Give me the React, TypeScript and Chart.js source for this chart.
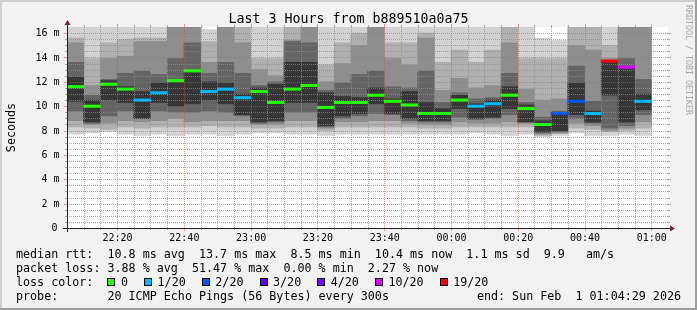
import React, { useEffect, useRef } from 'react';
import { Chart, registerables } from 'chart.js';

Chart.register(...registerables);

// 5-minute slots (start time of each slot)
const slots = [
  '22:05', '22:10', '22:15', '22:20', '22:25', '22:30', '22:35', '22:40', '22:45', '22:50', '22:55', '23:00',
  '23:05', '23:10', '23:15', '23:20', '23:25', '23:30', '23:35', '23:40', '23:45', '23:50', '23:55', '00:00',
  '00:05', '00:10', '00:15', '00:20', '00:25', '00:30', '00:35', '00:40', '00:45', '00:50', '00:55', '01:00',
];

// median rtt per slot (ms)
const medianMs = [
  11.6, 10.0, 11.8, 11.4, 10.5, 11.1, 12.1, 12.9, 11.2, 11.4, 10.7, 11.2,
  10.3, 11.4, 11.7, 9.9, 10.3, 10.3, 10.9, 10.4, 10.1, 9.4, 9.4, 10.5,
  10.0, 10.2, 10.9, 9.8, 8.5, 9.4, 10.4, 9.4, 13.7, 13.2, 10.4,
];

// loss class per slot (index into lossColors)
const lossStep = [
  0, 0, 0, 0, 1, 1, 0, 0, 1, 1, 1, 0,
  0, 0, 0, 0, 0, 0, 0, 0, 0, 0, 0, 0,
  1, 1, 0, 0, 0, 2, 2, 1, 6, 5, 1,
];

const lossLabels = ['0', '1/20', '2/20', '3/20', '4/20', '10/20', '19/20'];
const lossColors = ['#26ff00', '#00b8ff', '#0059ff', '#5e00ff', '#7e00ff', '#dd00ff', '#ff0000'];

// smoke: nested ping spreads per slot (ms), outer to inner
const smokeMin = [
  7.7, 7.8, 7.9, 7.7, 7.6, 7.7, 7.6, 7.7, 7.7, 7.6, 7.7, 7.8,
  7.8, 7.7, 7.7, 7.6, 7.7, 7.7, 7.7, 7.7, 7.7, 7.7, 7.7, 7.7,
  7.8, 7.7, 7.6, 7.7, 7.5, 7.6, 7.8, 7.6, 7.6, 7.7, 7.6,
];
const smokeLo2 = [
  8.3, 8.2, 8.1, 8.3, 8.2, 8.3, 8.3, 8.3, 8.4, 8.3, 8.3, 8.2,
  8.2, 8.3, 8.3, 8.0, 8.3, 8.3, 8.3, 8.3, 8.3, 8.2, 8.2, 8.3,
  8.3, 8.3, 8.3, 8.3, 7.6, 7.75, 8.2, 8.1, 7.9, 8.0, 8.2,
];
const smokeLo3 = [
  8.8, 8.5, 8.6, 8.8, 8.7, 8.8, 9.0, 8.7, 8.8, 8.8, 8.8, 8.5,
  8.5, 8.8, 8.8, 8.2, 8.7, 8.7, 8.8, 8.8, 8.6, 8.5, 8.5, 8.7,
  8.6, 8.6, 8.7, 8.6, 7.7, 7.8, 8.6, 8.4, 8.0, 8.2, 8.7,
];
const smokeLo4 = [
  9.6, 8.6, 9.2, 9.6, 9.0, 9.6, 9.5, 9.5, 9.6, 9.5, 9.2, 8.6,
  8.7, 9.5, 9.5, 8.3, 9.0, 9.2, 9.4, 9.3, 8.8, 8.7, 8.7, 9.1,
  8.9, 9.0, 9.3, 8.7, 7.8, 7.9, 9.0, 8.6, 8.2, 8.4, 9.3,
];
const smokeLo5 = [
  10.4, 8.7, 10.5, 10.3, 9.0, 10.3, 10.0, 10.2, 10.5, 10.2, 9.3, 8.7,
  8.8, 10.3, 10.3, 8.4, 9.2, 9.4, 10.2, 9.4, 9.0, 8.8, 8.8, 9.8,
  9.0, 9.1, 9.8, 8.7, 7.9, 8.0, 9.3, 8.7, 10.9, 8.7, 9.7,
];
const smokeHi5 = [
  12.4, 10.5, 12.1, 11.6, 11.2, 11.9, 12.2, 12.9, 12.0, 11.9, 11.0, 11.5,
  11.8, 13.6, 13.6, 11.1, 10.8, 10.7, 11.5, 10.6, 11.2, 10.3, 9.8, 10.9,
  10.2, 10.5, 11.6, 10.1, 8.8, 9.5, 11.9, 9.6, 13.7, 13.2, 11.0,
];
const smokeHi4 = [
  13.6, 10.9, 12.2, 12.7, 12.9, 12.6, 13.9, 15.2, 12.7, 13.6, 12.7, 11.7,
  12.0, 15.3, 15.2, 11.3, 11.9, 12.6, 12.9, 11.6, 11.5, 12.9, 10.3, 11.1,
  10.6, 10.7, 12.7, 10.3, 9.1, 9.6, 13.3, 10.4, 13.75, 13.9, 12.2,
];
const smokeHi3 = [
  15.2, 11.7, 13.9, 14.1, 15.3, 15.3, 17, 17, 13.6, 17, 15.2, 13.0,
  12.5, 15.4, 17, 12.0, 13.5, 15.0, 17, 13.9, 13.4, 15.6, 11.3, 12.3,
  11.5, 11.7, 15.2, 11.4, 10.5, 10.6, 15.0, 14.6, 13.9, 17, 17,
];
const smokeHi2 = [
  15.6, 13.9, 15.2, 15.5, 15.6, 15.6, 17, 17, 15.3, 17, 17, 13.9,
  13.9, 17, 17, 13.4, 15.2, 16.0, 17, 15.2, 15.2, 16.0, 13.6, 14.6,
  13.6, 14.6, 17, 13.9, 13.9, 13.9, 17, 17, 15.0, 17, 17,
];
const smokeMax = [
  17, 17, 17, 17, 17, 17, 17, 17, 16.3, 17, 17, 17,
  17, 17, 17, 17, 17, 17, 17, 17, 17, 17, 17, 17,
  17, 17, 17, 17, 15.6, 15.4, 17, 17, 17, 17, 17,
];

// y axis ticks
const yTickValues = [0, 2, 4, 6, 8, 10, 12, 14, 16];
const yTickLabels = ['0', '2 m', '4 m', '6 m', '8 m', '10 m', '12 m', '14 m', '16 m'];

const titleText = 'Last 3 Hours from b889510a0a75';
const yTitle = 'Seconds';
const watermark = 'RRDTOOL / TOBI OETIKER';
const rttLine = 'median rtt:  10.8 ms avg  13.7 ms max  8.5 ms min  10.4 ms now  1.1 ms sd  9.9   am/s';
const lossLine = 'packet loss: 3.88 % avg  51.47 % max  0.00 % min  2.27 % now';
const lossColorLabel = 'loss color:';
const probeLine = 'probe:       20 ICMP Echo Pings (56 Bytes) every 300s';
const endLine = 'end: Sun Feb  1 01:04:29 2026';

const layerColors = ['#d2d2d2', '#b0b0b0', '#8e8e8e', '#646464', '#363636'];
const MONO = '"DejaVu Sans Mono", monospace';
const MINOR = 'rgba(143,143,143,0.75)';
const MAJOR = 'rgba(222,79,79,0.6)';
const CORE_INDEX = 4;

const pair = (lo: number[], hi: number[]) =>
  slots.map((_, i) => (i < lo.length ? [lo[i], hi[i]] : null));

function isMajor(label: string) {
  return label.endsWith(':00') || label.endsWith(':20') || label.endsWith(':40');
}

function drawGrid(chart: any) {
  const { ctx, chartArea: a, scales } = chart;
  const x = scales.x;
  const y = scales.y;
  const L = a.left, R = a.right, T = a.top, B = a.bottom;
  ctx.save();
  ctx.lineWidth = 1;
  // horizontal
  for (let v = 0.5; v <= 16.01; v += 0.5) {
    const major = Math.abs(v / 2 - Math.round(v / 2)) < 1e-6;
    const py = Math.round(y.getPixelForValue(v)) + 0.5;
    ctx.strokeStyle = major ? MAJOR : MINOR;
    ctx.setLineDash([1, 1]);
    ctx.beginPath();
    ctx.moveTo(L, py);
    ctx.lineTo(R, py);
    ctx.stroke();
    ctx.setLineDash([]);
    ctx.beginPath();
    ctx.moveTo(L - (major ? 3 : 2), py);
    ctx.lineTo(L, py);
    ctx.moveTo(R, py);
    ctx.lineTo(R + (major ? 3 : 2), py);
    ctx.stroke();
  }
  // vertical
  for (let k = 1; k < slots.length; k++) {
    const major = isMajor(slots[k]);
    const px = Math.round(x.getPixelForValue(k - 0.5)) + 0.5;
    ctx.strokeStyle = major ? MAJOR : MINOR;
    ctx.setLineDash([1, 1]);
    ctx.beginPath();
    ctx.moveTo(px, T);
    ctx.lineTo(px, B);
    ctx.stroke();
    ctx.setLineDash([]);
    ctx.beginPath();
    ctx.moveTo(px, T - (major ? 3 : 2));
    ctx.lineTo(px, T);
    ctx.moveTo(px, B);
    ctx.lineTo(px, B + (major ? 3 : 2));
    ctx.stroke();
  }
  ctx.restore();
}

function drawFrame(chart: any) {
  const { ctx, chartArea: a, scales, width } = chart;
  const x = scales.x;
  const y = scales.y;
  const L = a.left, R = a.right, T = a.top, B = a.bottom;
  ctx.save();
  // axes
  const ax = Math.round(L) + 0.5;
  const ay = Math.round(B) + 0.5;
  ctx.strokeStyle = 'rgb(31,31,31)';
  ctx.lineWidth = 1;
  ctx.beginPath();
  ctx.moveTo(L - 4, ay);
  ctx.lineTo(R + 4, ay);
  ctx.moveTo(ax, B + 4);
  ctx.lineTo(ax, T - 4);
  ctx.stroke();
  ctx.fillStyle = 'rgb(128,31,31)';
  ctx.beginPath();
  ctx.moveTo(R + 2, ay - 3);
  ctx.lineTo(R + 2, ay + 3);
  ctx.lineTo(R + 7, ay);
  ctx.closePath();
  ctx.fill();
  ctx.beginPath();
  ctx.moveTo(ax - 3, T - 2);
  ctx.lineTo(ax + 3, T - 2);
  ctx.lineTo(ax, T - 7);
  ctx.closePath();
  ctx.fill();

  // y tick labels
  ctx.fillStyle = '#000';
  ctx.font = '10px ' + MONO;
  ctx.textBaseline = 'middle';
  ctx.textAlign = 'right';
  yTickValues.forEach((v, i) => {
    const lbl = yTickLabels[i];
    ctx.fillText(lbl, lbl.length === 1 ? L - 9.5 : L - 7.5, y.getPixelForValue(v) + 0.5);
  });
  // x tick labels
  ctx.textAlign = 'center';
  for (let k = 1; k < slots.length; k++) {
    if (isMajor(slots[k])) {
      ctx.fillText(slots[k], x.getPixelForValue(k - 0.5) + 0.5, B + 10);
    }
  }

  // title
  ctx.font = '13.3px ' + MONO;
  ctx.textAlign = 'center';
  ctx.fillText(titleText, width / 2, 19.5);

  // y title
  ctx.font = '11.7px ' + MONO;
  ctx.save();
  ctx.translate(11.5, (T + B) / 2);
  ctx.rotate(-Math.PI / 2);
  ctx.textAlign = 'center';
  ctx.fillText(yTitle, 0, 0);
  ctx.restore();

  // watermark
  ctx.save();
  ctx.font = '8.3px ' + MONO;
  ctx.fillStyle = '#a6a6a6';
  ctx.translate(width - 9, 5);
  ctx.rotate(Math.PI / 2);
  ctx.textAlign = 'left';
  ctx.fillText(watermark, 0, 0);
  ctx.restore();

  // legend
  ctx.font = '11.7px ' + MONO;
  ctx.textAlign = 'left';
  ctx.fillStyle = '#000';
  const lx = 16;
  const cw = ctx.measureText('0').width;
  ctx.fillText(rttLine, lx, 254.5);
  ctx.fillText(lossLine, lx, 268.5);
  ctx.fillText(lossColorLabel, lx, 282.5);
  let bx = lx + 13 * cw;
  lossLabels.forEach((lbl, i) => {
    const bxr = Math.round(bx);
    ctx.fillStyle = lossColors[i];
    ctx.fillRect(bxr, 278, 8, 8);
    ctx.strokeStyle = '#000';
    ctx.lineWidth = 1;
    ctx.strokeRect(bxr + 0.5, 278.5, 7, 7);
    ctx.fillStyle = '#000';
    const tx = bx + 13.5;
    ctx.fillText(lbl, tx, 282.5);
    bx = tx + ctx.measureText(lbl).width + 2 * cw + 2;
  });
  ctx.fillText(probeLine, lx, 296.5);
  ctx.textAlign = 'right';
  ctx.fillText(endLine, width - 16, 296.5);

  ctx.restore();
}

const rrdPlugin = {
  id: 'rrdLook',
  beforeDraw(chart: any) {
    const { ctx, chartArea: a, width, height } = chart;
    ctx.save();
    ctx.fillStyle = '#f2f2f2';
    ctx.fillRect(0, 0, width, height);
    ctx.fillStyle = '#cfcfcf';
    ctx.fillRect(0, 0, width, 2);
    ctx.fillRect(0, 0, 2, height);
    ctx.fillStyle = '#9e9e9e';
    ctx.fillRect(0, height - 2, width, 2);
    ctx.fillRect(width - 2, 0, 2, height);
    ctx.fillStyle = '#ffffff';
    ctx.fillRect(a.left, a.top, a.right - a.left, a.bottom - a.top);
    ctx.restore();
  },
  afterDatasetDraw(chart: any, args: any) {
    if (args.index === CORE_INDEX) drawGrid(chart);
  },
  afterDraw(chart: any) {
    drawFrame(chart);
  },
};

export default function App() {
  const ref = useRef<HTMLCanvasElement>(null);
  useEffect(() => {
    document.body.style.margin = '0';
    const layers = [
      pair(smokeMin, smokeMax),
      pair(smokeLo2, smokeHi2),
      pair(smokeLo3, smokeHi3),
      pair(smokeLo4, smokeHi4),
      pair(smokeLo5, smokeHi5),
    ];
    const datasets: any[] = layers.map((d, i) => ({
      label: 'smoke' + i,
      data: d,
      backgroundColor: layerColors[i],
      order: 10 - i,
    }));
    datasets.push({
      label: 'median',
      data: slots.map((_, i) => (i < medianMs.length ? [medianMs[i] - 0.1, medianMs[i] + 0.1] : null)),
      backgroundColor: slots.map((_, i) => (i < lossStep.length ? lossColors[lossStep[i]] : '#000')),
      order: 0,
    });
    const chart = new Chart(ref.current as HTMLCanvasElement, {
      type: 'bar',
      data: { labels: slots, datasets },
      options: {
        responsive: false,
        animation: false,
        devicePixelRatio: 1,
        layout: { padding: { left: 67, right: 29, top: 27, bottom: 82 } },
        datasets: {
          bar: {
            grouped: false,
            barPercentage: 1,
            categoryPercentage: 1,
            borderWidth: 0,
            inflateAmount: 0.3,
          },
        } as any,
        scales: {
          x: { type: 'category', offset: true, display: false, grid: { display: false } },
          y: { type: 'linear', min: 0, max: 16.5, display: false, grid: { display: false } },
        },
        plugins: {
          legend: { display: false },
          tooltip: { enabled: false },
        },
        events: [],
      },
      plugins: [rrdPlugin],
    } as any);
    return () => chart.destroy();
  }, []);
  return <canvas ref={ref} width={697} height={310} style={{ display: 'block' }} />;
}
